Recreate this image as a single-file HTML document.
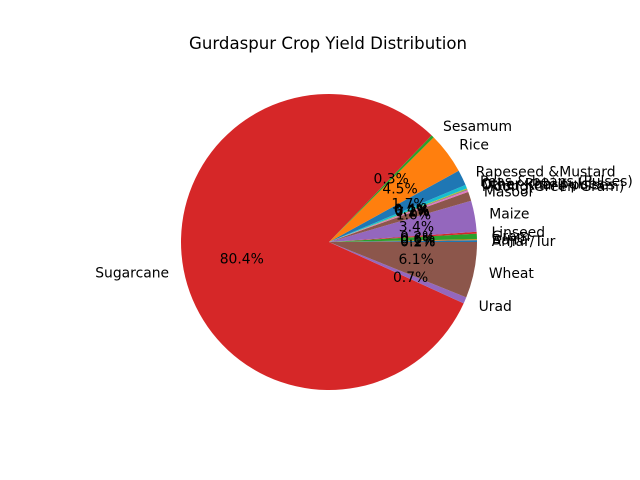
<!DOCTYPE html>
<html><head><meta charset="utf-8"><style>
html,body{margin:0;padding:0;background:#fff;}
svg{display:block;font-family:"DejaVu Sans","Liberation Sans",sans-serif;}
</style></head><body>
<svg id="chart" width="640" height="480" viewBox="0 0 640 480">
<rect width="640" height="480" fill="#fff"/>
<text x="328" y="49" font-size="16.6" text-anchor="middle" fill="#000">Gurdaspur Crop Yield Distribution</text>
<g id="slices"></g><g id="labels"></g>
</svg>
<script>
const categories = ["Arhar/Tur","Bajra","Gram","Linseed","Maize","Masoor","Moong(Green Gram)","Other Kharif pulses","Other Rabi pulses","Peas & beans (Pulses)","Rapeseed &Mustard","Rice","Sesamum","Sugarcane","Urad","Wheat"];
const values = [0.2,0.1,0.6,0.2,3.4,1.0,0.2,0.1,0.1,0.4,1.7,4.5,0.3,80.4,0.7,6.1];
const colors = ["#1f77b4","#ff7f0e","#2ca02c","#d62728","#9467bd","#8c564b","#e377c2","#7f7f7f","#bcbd22","#17becf"];
const cx=329, cy=242, r=148;
const NS="http://www.w3.org/2000/svg";
const total=values.reduce((a,b)=>a+b,0);
const gS=document.getElementById('slices'), gL=document.getElementById('labels');
function pt(a,rr){return [cx+rr*Math.cos(a), cy-rr*Math.sin(a)];}
let cum=0;
values.forEach((v,i)=>{
  const a0=cum/total*2*Math.PI; cum+=v; const a1=cum/total*2*Math.PI;
  const p0=pt(a0,r), p1=pt(a1,r);
  const large=(a1-a0)>Math.PI?1:0;
  const path=document.createElementNS(NS,'path');
  path.setAttribute('d',`M${cx},${cy} L${p0[0]},${p0[1]} A${r},${r} 0 ${large} 0 ${p1[0]},${p1[1]} Z`);
  path.setAttribute('fill',colors[i%10]);
  
  
  gS.appendChild(path);
  const am=(a0+a1)/2;
  const lp=pt(am,r*1.1);
  const t=document.createElementNS(NS,'text');
  t.setAttribute('x',lp[0]); t.setAttribute('y',lp[1]+5);
  t.setAttribute('font-size','13.9');
  t.setAttribute('text-anchor',Math.cos(am)>=0?'start':'end');
  t.textContent=categories[i];
  
  
  gL.appendChild(t);
  const pp=pt(am,r*0.6);
  const tp=document.createElementNS(NS,'text');
  tp.setAttribute('x',pp[0]); tp.setAttribute('y',pp[1]+5);
  tp.setAttribute('font-size','13.9');
  tp.setAttribute('text-anchor','middle');
  tp.textContent=(v/total*100).toFixed(1)+'%';
  
  
  gL.appendChild(tp);
});
</script>
</body></html>
